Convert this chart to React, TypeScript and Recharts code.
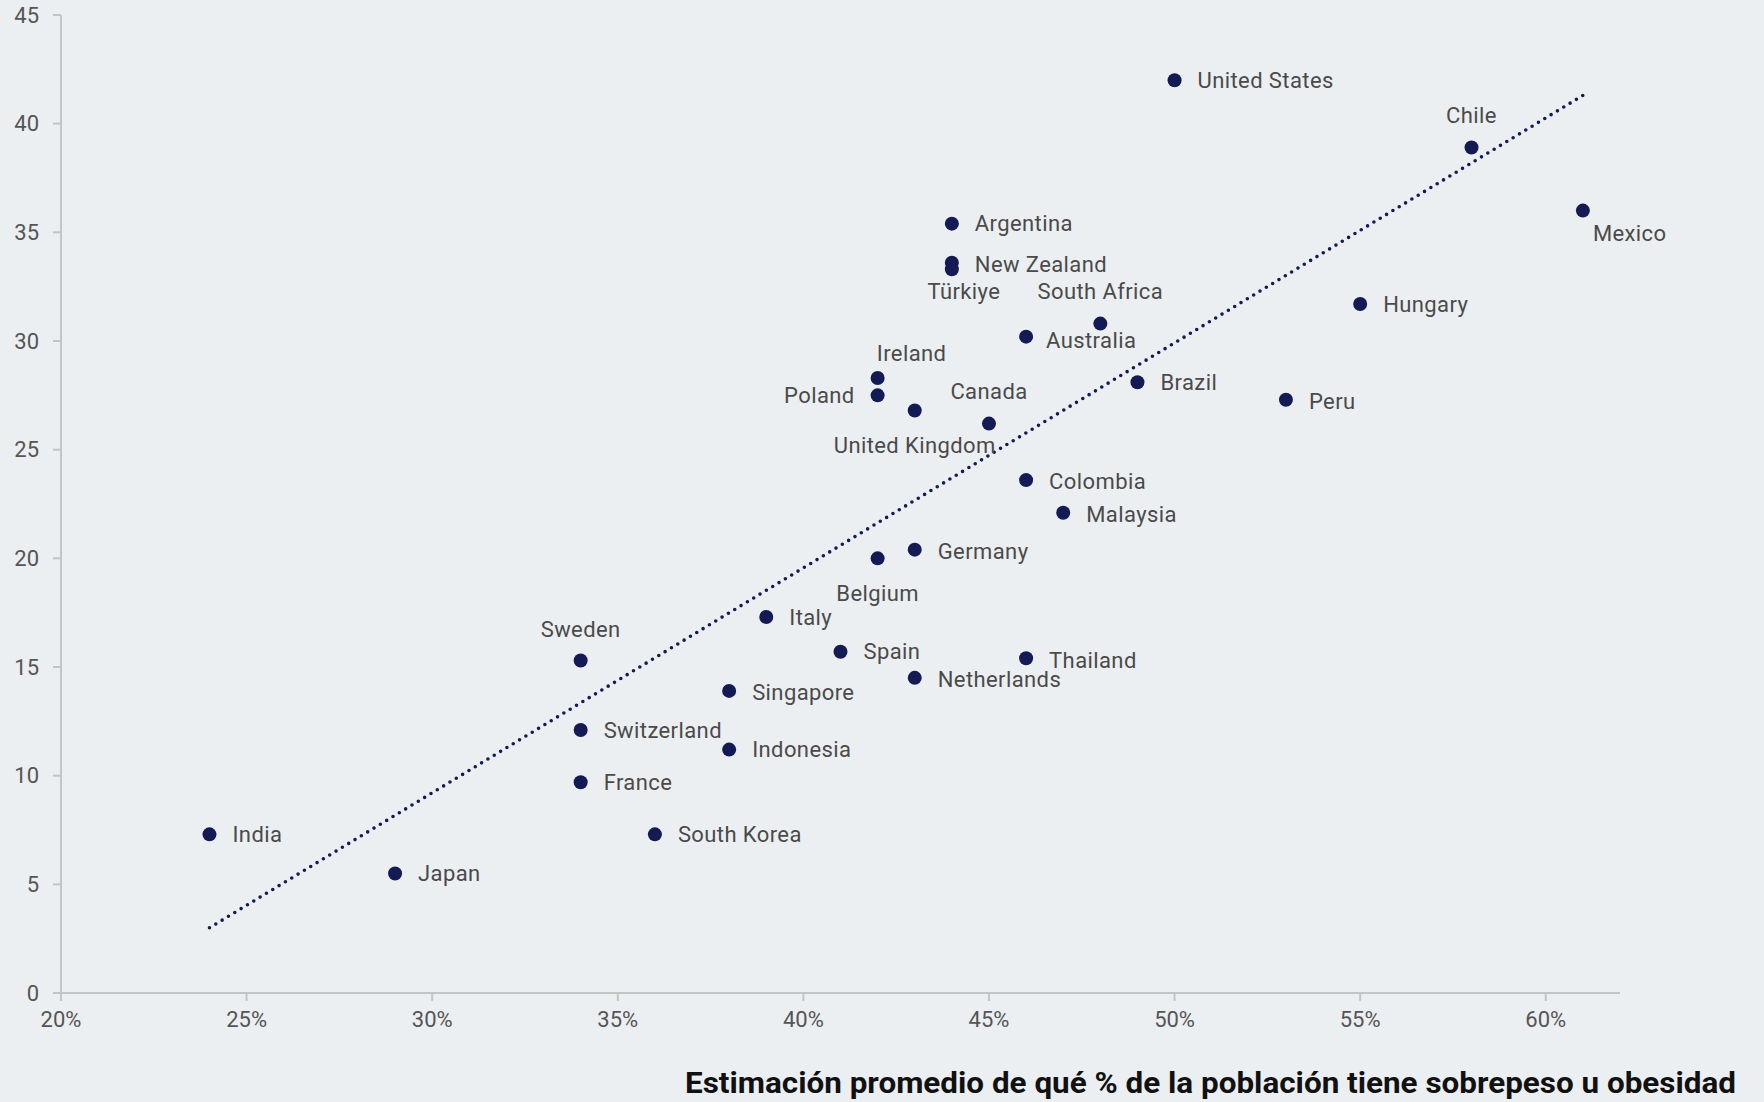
import React from "react";
import { ScatterChart, Scatter, XAxis, YAxis } from "recharts";

// Countries, x = average estimate of % population overweight/obese, y = actual value
const countries = [
  "United States", "Chile", "Mexico", "Argentina", "New Zealand", "Türkiye",
  "South Africa", "Australia", "Hungary", "Ireland", "Poland", "Brazil",
  "Peru", "United Kingdom", "Canada", "Colombia", "Malaysia", "Germany",
  "Belgium", "Italy", "Sweden", "Spain", "Thailand", "Netherlands",
  "Singapore", "Switzerland", "Indonesia", "France", "India", "South Korea",
  "Japan",
];
const estimates = [
  50, 58, 61, 44, 44, 44, 48, 46, 55, 42, 42, 49, 53, 43, 45, 46, 47, 43, 42,
  39, 34, 41, 46, 43, 38, 34, 38, 34, 24, 36, 29,
];
const values = [
  42.0, 38.9, 36.0, 35.4, 33.6, 33.3, 30.8, 30.2, 31.7, 28.3, 27.5, 28.1, 27.3,
  26.8, 26.2, 23.6, 22.1, 20.4, 20.0, 17.3, 15.3, 15.7, 15.4, 14.5, 13.9, 12.1,
  11.2, 9.7, 7.3, 7.3, 5.5,
];

const trendX = [24, 61];
const trendY = [3.0, 41.3];

const xTicks = [20, 25, 30, 35, 40, 45, 50, 55, 60];
const yTicks = [0, 5, 10, 15, 20, 25, 30, 35, 40, 45];

const TITLE = "Estimación promedio de qué % de la población tiene sobrepeso u obesidad";

const NAVY = "#131a54";
const LABEL = "#4a4a4a";
const AXIS = "#c4c4c4";
const BG = "#eceff2";

// label placement: [anchor, dx, dy]
const place: Record<string, [string, number, number]> = {
  Chile: ["middle", 0, -32],
  Mexico: ["start", 10, 23],
  Türkiye: ["middle", 12, 22],
  "South Africa": ["middle", 0, -32],
  Australia: ["start", 20, 4],
  Ireland: ["middle", 34, -24],
  Poland: ["end", -23, 0],
  "United Kingdom": ["middle", 0, 35],
  Canada: ["middle", 0, -32],
  Belgium: ["middle", 0, 35],
  Sweden: ["middle", 0, -31],
  "New Zealand": ["start", 23, 2],
  Netherlands: ["start", 23, 2],
  Thailand: ["start", 23, 2],
  Peru: ["start", 23, 2],
  Singapore: ["start", 23, 2],
  Colombia: ["start", 23, 1],
  Malaysia: ["start", 23, 2],
  Germany: ["start", 23, 2],
};

const points = countries.map((name, i) => ({ name, x: estimates[i], y: values[i] }));
const trend = trendX.map((x, i) => ({ x, y: trendY[i] }));

function CountryDot(props: any) {
  const { cx, cy, payload } = props;
  const [anchor, dx, dy] = place[payload.name] ?? ["start", 23, 0];
  return (
    <g>
      <circle cx={cx} cy={cy} r={7} fill={NAVY} />
      <text
        x={cx + dx}
        y={cy + dy}
        textAnchor={anchor}
        dominantBaseline="central"
        fontSize={22}
        letterSpacing={0.4}
        fill={LABEL}
        fontFamily="Roboto, sans-serif"
      >
        {payload.name}
      </text>
    </g>
  );
}

const tickStyle = { fontSize: 22, fill: "#555", fontFamily: "Roboto, sans-serif" };

export default function App() {
  return (
    <div style={{ position: "absolute", left: 0, top: 0, width: 1764, height: 1102, background: BG }}>
      <ScatterChart
        width={1764}
        height={1102}
        margin={{ top: 15, right: 144, left: 0, bottom: 49 }}
      >
        <XAxis
          type="number"
          dataKey="x"
          domain={[20, 62]}
          ticks={xTicks}
          tickFormatter={(v) => `${v}%`}
          tick={tickStyle}
          stroke={AXIS}
          strokeWidth={2}
          tickSize={8}
          tickMargin={10}
          height={60}
        />
        <YAxis
          type="number"
          dataKey="y"
          domain={[0, 45]}
          ticks={yTicks}
          tick={tickStyle}
          stroke={AXIS}
          strokeWidth={2}
          tickSize={8}
          tickMargin={14}
          width={61}
        />
        <Scatter
          data={trend}
          line={{ stroke: NAVY, strokeWidth: 3.6, strokeDasharray: "0 7.4", strokeLinecap: "round" }}
          shape={() => <g />}
          isAnimationActive={false}
        />
        <Scatter data={points} shape={<CountryDot />} isAnimationActive={false} />
      </ScatterChart>
      <svg
        width={1764}
        height={1102}
        style={{ position: "absolute", left: 0, top: 0, pointerEvents: "none" }}
      >
        <text
          x={685}
          y={1093}
          fontSize={29}
          fontWeight={700}
          fontFamily="Roboto, sans-serif"
          fill="#111"
          textLength={1051}
          lengthAdjust="spacingAndGlyphs"
        >
          {TITLE}
        </text>
      </svg>
    </div>
  );
}
